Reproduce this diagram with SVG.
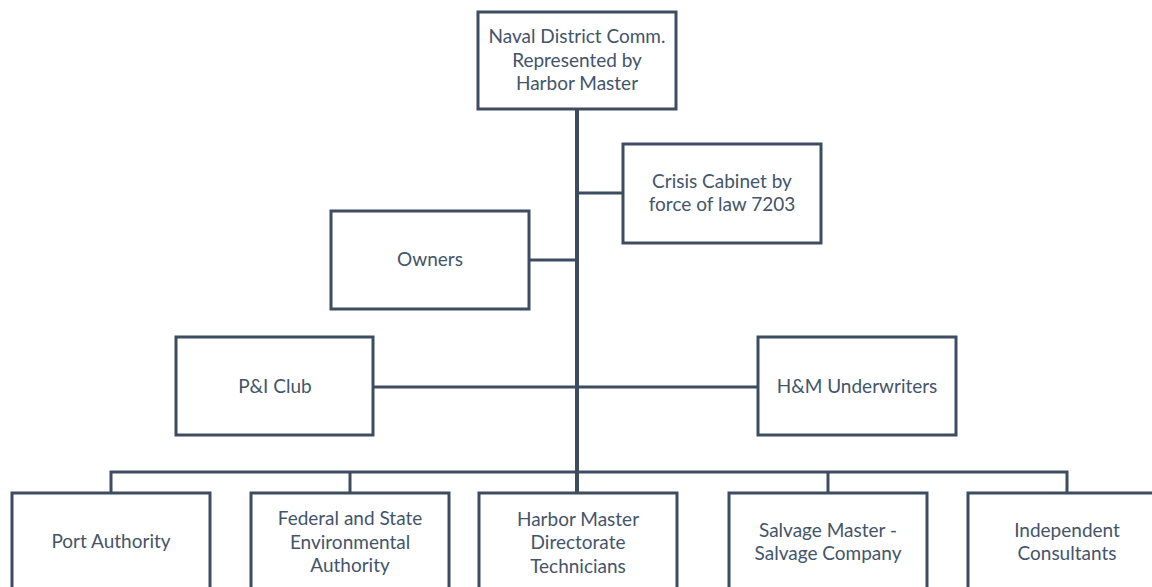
<svg xmlns="http://www.w3.org/2000/svg" width="1152" height="587" viewBox="0 0 1152 587">
<style>
.box{fill:#ffffff;stroke:#3d4c61;stroke-width:3}
.t{font-family:Lato,"Open Sans","Liberation Sans",sans-serif;font-size:19px;fill:#44546a;text-anchor:middle}
.c{fill:none;stroke:#3d4c61;stroke-width:3}
.trunk{fill:none;stroke:#3d4c61;stroke-width:4}
</style>
<rect width="1152" height="587" fill="#ffffff"/>
<g id="connectors">
<line class="trunk" x1="577" y1="109" x2="577" y2="493"/>
<line class="c" x1="577" y1="193" x2="622" y2="193"/>
<line class="c" x1="529" y1="260" x2="577" y2="260"/>
<line class="c" x1="373" y1="387" x2="758" y2="387"/>
<polyline class="c" points="111,493 111,472 1067,472 1067,493"/>
<line class="c" x1="350" y1="472" x2="350" y2="493"/>
<line class="c" x1="828" y1="472" x2="828" y2="493"/>
</g>
<g id="naval">
<rect class="box" x="478" y="12" width="198" height="97"/>
<text class="t" x="577" y="43">Naval District Comm.</text>
<text class="t" x="577" y="67">Represented by</text>
<text class="t" x="577" y="90">Harbor Master</text>
</g>
<g id="crisis">
<rect class="box" x="623" y="144" width="198" height="99"/>
<text class="t" x="722" y="188">Crisis Cabinet by</text>
<text class="t" x="722" y="211">force of law 7203</text>
</g>
<g id="owners">
<rect class="box" x="331" y="211" width="198" height="98"/>
<text class="t" x="430" y="266">Owners</text>
</g>
<g id="pi">
<rect class="box" x="176" y="337" width="197" height="98"/>
<text class="t" x="275" y="393">P&amp;I Club</text>
</g>
<g id="hm">
<rect class="box" x="758" y="337" width="198" height="98"/>
<text class="t" x="857" y="393">H&amp;M Underwriters</text>
</g>
<g id="port">
<rect class="box" x="12" y="493" width="198" height="98"/>
<text class="t" x="111" y="548">Port Authority</text>
</g>
<g id="federal">
<rect class="box" x="251" y="493" width="198" height="98"/>
<text class="t" x="350" y="525">Federal and State</text>
<text class="t" x="350" y="549">Environmental</text>
<text class="t" x="350" y="572">Authority</text>
</g>
<g id="harbor">
<rect class="box" x="479" y="493" width="198" height="98"/>
<text class="t" x="578" y="526">Harbor Master</text>
<text class="t" x="578" y="549">Directorate</text>
<text class="t" x="578" y="573">Technicians</text>
</g>
<g id="salvage">
<rect class="box" x="729" y="493" width="198" height="98"/>
<text class="t" x="828" y="537">Salvage Master -</text>
<text class="t" x="828" y="560">Salvage Company</text>
</g>
<g id="independent">
<rect class="box" x="968" y="493" width="198" height="98"/>
<text class="t" x="1067" y="537">Independent</text>
<text class="t" x="1067" y="560">Consultants</text>
</g>
</svg>
